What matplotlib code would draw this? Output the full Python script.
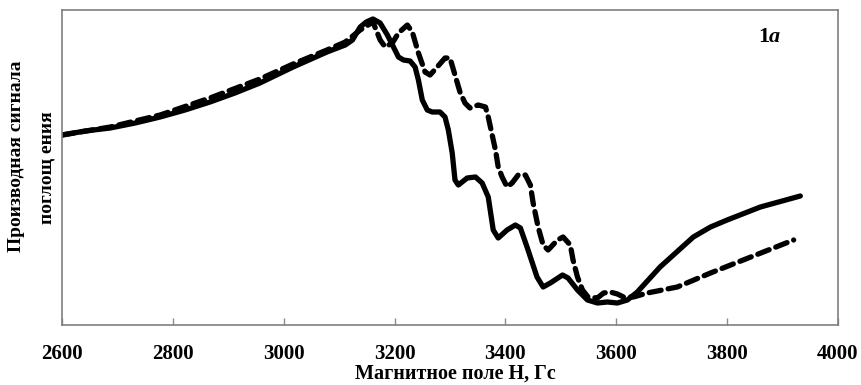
import matplotlib
matplotlib.use("Agg")
import matplotlib.pyplot as plt

# Data (field H in Gs, signal in arbitrary units)
solid_h = [2600, 2642, 2687, 2732, 2777, 2822, 2867, 2912, 2957, 3017, 3078, 3111,
           3124, 3138, 3149, 3161, 3174, 3187, 3198, 3207, 3216, 3228, 3237, 3243,
           3250, 3259, 3268, 3282, 3291, 3297, 3304, 3309, 3315, 3331, 3346, 3358,
           3369, 3378, 3387, 3403, 3418, 3427, 3439, 3457, 3468, 3481, 3503, 3513,
           3530, 3548, 3566, 3584, 3602, 3620, 3638, 3679, 3739, 3770, 3800, 3860,
           3932]
solid_v = [190, 194, 197, 202, 208, 215, 223, 232, 242, 258, 273, 280,
           285, 298, 303, 306, 302, 290, 278, 268, 265, 264, 258, 245,
           225, 215, 213, 213, 208, 195, 172, 145, 140, 147, 148, 142,
           128, 95, 87, 95, 100, 97, 78, 48, 38, 42, 50, 47,
           35, 25, 22, 23, 22, 25, 33, 58, 88, 98, 105, 118,
           129]

dash_h = [2600, 2687, 2777, 2867, 2957, 3017, 3078, 3111, 3138, 3161, 3174, 3183,
          3196, 3207, 3223, 3232, 3243, 3255, 3264, 3277, 3291, 3300, 3309, 3318,
          3327, 3336, 3351, 3364, 3369, 3382, 3387, 3394, 3403, 3412, 3423, 3436,
          3445, 3450, 3459, 3468, 3477, 3494, 3504, 3517, 3522, 3530, 3539, 3549,
          3566, 3577, 3589, 3602, 3613, 3631, 3656, 3710, 3770, 3829, 3920]
dash_v = [190, 198, 210, 227, 246, 261, 275, 283, 295, 303, 285, 278,
          282, 292, 300, 293, 272, 253, 250, 258, 267, 267, 250, 233,
          222, 217, 220, 218, 208, 175, 158, 148, 138, 142, 150, 150,
          140, 122, 98, 80, 75, 85, 88, 80, 65, 48, 35, 28,
          27, 32, 33, 31, 28, 28, 32, 38, 52, 65, 85]

x_ticks = [2600, 2800, 3000, 3200, 3400, 3600, 3800, 4000]

W, H = 862, 385
fig = plt.figure(figsize=(W / 100, H / 100), dpi=100)
ax = fig.add_axes([62 / W, (H - 325) / H, (838 - 62) / W, (325 - 10) / H])

ax.plot(solid_h, solid_v, color="black", lw=3.8, solid_joinstyle="round",
        solid_capstyle="round")
ax.plot(dash_h, dash_v, color="black", lw=3.8, dashes=(2.3, 1.35),
        dash_joinstyle="round", dash_capstyle="round")

ax.set_xlim(2600, 4000)
ax.set_ylim(0, 315)
ax.set_xticks(x_ticks)
ax.set_yticks([])
ax.tick_params(axis="x", direction="in", length=5, width=1, color="#8c8c8c", pad=14)
for lab in ax.get_xticklabels():
    lab.set_fontfamily("Liberation Serif")
    lab.set_fontweight("bold")
    lab.set_fontsize(15)
for s in ax.spines.values():
    s.set_color("#7f7f7f")
    s.set_linewidth(1.2)

fig.text(455 / W, (H - 374) / H, "Магнитное поле Н, Гс", ha="center", va="center",
         fontfamily="Liberation Serif", fontweight="bold", fontsize=14.5)
fig.text(17 / W, (H - 156) / H, "Производная сигнала", ha="center", va="center",
         rotation=90, fontfamily="Liberation Serif", fontweight="bold", fontsize=14)
fig.text(47 / W, (H - 168) / H, "поглощ ения", ha="center", va="center",
         rotation=90, fontfamily="Liberation Serif", fontweight="bold", fontsize=14)
fig.text(769 / W, (H - 37) / H, "1", ha="right", va="center",
         fontfamily="Liberation Serif", fontweight="bold", fontsize=16)
fig.text(769 / W, (H - 37) / H, "a", ha="left", va="center",
         fontfamily="Liberation Serif", fontweight="bold", fontstyle="italic",
         fontsize=16)

fig.savefig("out.png", dpi=100)
